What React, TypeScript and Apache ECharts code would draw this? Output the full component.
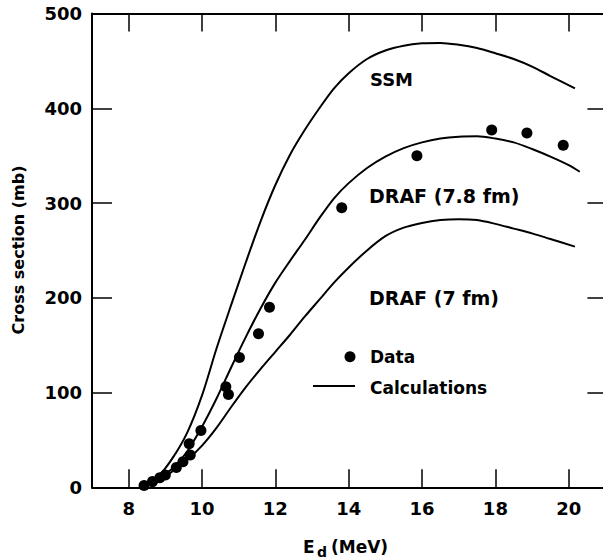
import React, { useEffect, useRef } from 'react';
import * as echarts from 'echarts';

const xTicks = [8, 10, 12, 14, 16, 18, 20];
const yTicks = [0, 100, 200, 300, 400, 500];

const dataPoints = [
  [8.42, 2], [8.65, 6], [8.85, 10], [9.0, 13], [9.3, 21], [9.48, 27],
  [9.68, 34], [9.65, 46], [9.97, 60], [10.65, 106], [10.72, 98],
  [11.02, 137], [11.54, 162], [11.84, 190], [13.81, 295], [15.86, 350],
  [17.9, 377], [18.86, 374], [19.85, 361],
];

const ssm = [
  [8.41, 0], [8.8, 11], [9.2, 31], [9.6, 58], [10.0, 97], [10.4, 147],
  [10.8, 193], [11.2, 238], [11.6, 281], [12.0, 319], [12.4, 351],
  [12.8, 377], [13.2, 400], [13.6, 421], [14.0, 437], [14.5, 452],
  [15.0, 461], [15.5, 466], [16.0, 468.5], [16.5, 469], [17.0, 467],
  [17.5, 463.5], [18.0, 458], [18.5, 452], [19.0, 444], [19.5, 434],
  [20.17, 421],
];

const draf78 = [
  [8.41, 0], [8.8, 9], [9.2, 20], [9.6, 38], [10.0, 64], [10.4, 94],
  [10.8, 127], [11.2, 159], [11.6, 189], [12.0, 216], [12.4, 239],
  [12.8, 261], [13.2, 284], [13.6, 305], [14.0, 321], [14.5, 337],
  [15.0, 349], [15.5, 358], [16.0, 364], [16.5, 368], [17.0, 370],
  [17.5, 370.5], [18.0, 368], [18.5, 364], [19.0, 357], [19.5, 349],
  [20.0, 340], [20.3, 333],
];

const draf7 = [
  [8.41, 0], [8.8, 7], [9.2, 17], [9.6, 29], [10.0, 44], [10.4, 63],
  [10.8, 85], [11.2, 106], [11.6, 125], [12.0, 143], [12.4, 161],
  [12.8, 180], [13.2, 198], [13.6, 216], [14.0, 232], [14.5, 250],
  [15.0, 265], [15.5, 274], [16.0, 279], [16.5, 282], [17.0, 283],
  [17.5, 282], [18.0, 278], [18.5, 273], [19.0, 268], [19.5, 262],
  [20.17, 254],
];

const X_MIN = 7;
const X_MAX = 21;
const Y_MIN = 0;
const Y_MAX = 500;

const FONT = '"DejaVu Sans", sans-serif';

function txt(text: string, x: number, y: number, size: number, weight: string, align = 'left', rotation = 0) {
  return {
    type: 'text',
    x,
    y,
    rotation,
    silent: true,
    style: {
      text,
      fill: '#000',
      font: `${weight} ${size}px ${FONT}`,
      textAlign: align,
      align,
      textVerticalAlign: 'middle',
      verticalAlign: 'middle',
    },
  };
}

export default function App() {
  const ref = useRef<HTMLDivElement>(null);
  useEffect(() => {
    const chart = echarts.init(ref.current!, null, { renderer: 'svg' });
    const W = 615;
    const black = '#000';
    const labelStyle = { color: black, fontFamily: FONT, fontWeight: 'bold', fontSize: 18 };
    const tickLine = { color: black, width: 1.5 };
    chart.setOption({
      animation: false,
      backgroundColor: '#fff',
      textStyle: { fontFamily: FONT },
      grid: { left: 92, right: W - 605.4, top: 13.5, bottom: 560 - 487.3, outerBoundsMode: 'none' },
      xAxis: [
        {
          type: 'value', position: 'bottom', min: X_MIN, max: X_MAX, splitNumber: 7,
          axisLine: { show: true, onZero: false, lineStyle: { color: black, width: 2 } },
          axisTick: { show: true, inside: true, length: 18, lineStyle: tickLine },
          splitLine: { show: false },
          axisLabel: {
            show: true, margin: 12, ...labelStyle,
            formatter: (v: number) => (xTicks.indexOf(v) >= 0 ? String(v) : ''),
          },
        },
        {
          type: 'value', position: 'top', min: X_MIN, max: X_MAX, splitNumber: 7,
          axisLine: { show: true, onZero: false, lineStyle: { color: black, width: 2 } },
          axisTick: { show: true, inside: true, length: 18, lineStyle: tickLine },
          splitLine: { show: false },
          axisLabel: { show: false },
        },
      ],
      yAxis: [
        {
          type: 'value', position: 'left', min: Y_MIN, max: Y_MAX, interval: 100,
          axisLine: { show: true, onZero: false, lineStyle: { color: black, width: 2 } },
          axisTick: { show: true, inside: true, length: 20, lineStyle: tickLine },
          splitLine: { show: false },
          axisLabel: {
            show: true, margin: 10, ...labelStyle,
            formatter: (v: number) => (yTicks.indexOf(v) >= 0 ? String(v) : ''),
          },
        },
        {
          type: 'value', position: 'right', min: Y_MIN, max: Y_MAX, interval: 100,
          axisLine: { show: true, onZero: false, lineStyle: { color: black, width: 2 } },
          axisTick: { show: true, inside: true, length: 18, lineStyle: tickLine },
          splitLine: { show: false },
          axisLabel: { show: false },
        },
      ],
      series: [
        { name: 'SSM', type: 'line', data: ssm, smooth: 0.3, symbol: 'none', lineStyle: { color: black, width: 2 }, z: 3 },
        { name: 'DRAF (7.8 fm)', type: 'line', data: draf78, smooth: 0.3, symbol: 'none', lineStyle: { color: black, width: 2 }, z: 3 },
        { name: 'DRAF (7 fm)', type: 'line', data: draf7, smooth: 0.3, symbol: 'none', lineStyle: { color: black, width: 2 }, z: 3 },
        { name: 'Data', type: 'scatter', data: dataPoints, symbol: 'circle', symbolSize: 11, itemStyle: { color: black, opacity: 1 }, z: 4 },
      ],
      graphic: [
        txt('SSM', 370, 79, 18, 'bold'),
        txt('DRAF (7.8 fm)', 369, 196, 19, 'bold'),
        txt('DRAF (7 fm)', 369, 298, 19, 'bold'),
        { type: 'circle', silent: true, shape: { cx: 350, cy: 356.7, r: 5.5 }, style: { fill: black } },
        txt('Data', 370, 357, 17, 'bold'),
        { type: 'line', silent: true, shape: { x1: 313, y1: 386, x2: 355, y2: 386 }, style: { stroke: black, lineWidth: 2 } },
        txt('Calculations', 370, 387.5, 17, 'bold'),
        txt('Cross section (mb)', 18, 250, 16, 'bold', 'center', Math.PI / 2),
        txt('E', 303, 546.5, 17, 'bold'),
        txt('d', 317, 552, 14, 'bold'),
        txt('(MeV)', 331, 546.5, 17, 'bold'),
      ],
    });
    return () => chart.dispose();
  }, []);
  return (
    <div style={{ position: 'fixed', left: 0, top: 0, width: 603, height: 560, overflow: 'hidden', background: '#fff' }}>
      <div ref={ref} style={{ width: 615, height: 560 }} />
    </div>
  );
}
